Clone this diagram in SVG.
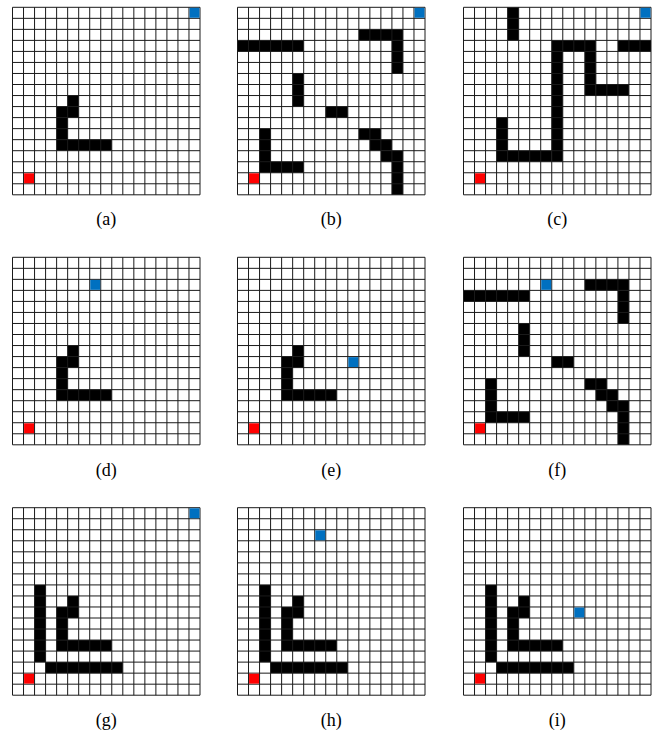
<svg xmlns="http://www.w3.org/2000/svg" width="662" height="734" viewBox="0 0 662 734">
<style>
.bg{fill:#ffffff}
.grid{fill:none;stroke:#1a1a1a;stroke-width:1}
.obs{fill:#000000}
.start{fill:#ff0000}
.goal{fill:#0070c0}
.cap{font-family:"Liberation Serif","Times New Roman",serif;font-size:18px;fill:#000;text-anchor:middle}
</style>
<defs>
<path id="gridlines" class="grid" vector-effect="non-scaling-stroke" d="M0 0V17M1 0V17M2 0V17M3 0V17M4 0V17M5 0V17M6 0V17M7 0V17M8 0V17M9 0V17M10 0V17M11 0V17M12 0V17M13 0V17M14 0V17M15 0V17M16 0V17M17 0V17M0 0H17M0 1H17M0 2H17M0 3H17M0 4H17M0 5H17M0 6H17M0 7H17M0 8H17M0 9H17M0 10H17M0 11H17M0 12H17M0 13H17M0 14H17M0 15H17M0 16H17M0 17H17"/>
<g id="obsA" class="obs">
<rect x="5" y="8" width="1" height="1"/>
<rect x="4" y="9" width="2" height="1"/>
<rect x="4" y="10" width="1" height="2"/>
<rect x="4" y="12" width="5" height="1"/>
</g>
<g id="obsB" class="obs">
<rect x="0" y="3" width="6" height="1"/>
<rect x="11" y="2" width="4" height="1"/>
<rect x="14" y="3" width="1" height="3"/>
<rect x="5" y="6" width="1" height="3"/>
<rect x="8" y="9" width="2" height="1"/>
<rect x="2" y="11" width="1" height="4"/>
<rect x="3" y="14" width="3" height="1"/>
<rect x="11" y="11" width="2" height="1"/>
<rect x="12" y="12" width="2" height="1"/>
<rect x="13" y="13" width="2" height="1"/>
<rect x="14" y="14" width="1" height="3"/>
</g>
<g id="obsC" class="obs">
<rect x="4" y="0" width="1" height="3"/>
<rect x="8" y="3" width="4" height="1"/>
<rect x="14" y="3" width="3" height="1"/>
<rect x="8" y="4" width="1" height="10"/>
<rect x="11" y="4" width="1" height="4"/>
<rect x="12" y="7" width="3" height="1"/>
<rect x="3" y="13" width="5" height="1"/>
<rect x="3" y="10" width="1" height="3"/>
</g>
<g id="obsG" class="obs">
<use href="#obsA"/>
<rect x="2" y="7" width="1" height="7"/>
<rect x="3" y="14" width="7" height="1"/>
</g>
<rect id="start" class="start" x="1.05" y="15.05" width="0.9" height="0.9"/>
<rect id="goal" class="goal" x="0.05" y="0.05" width="0.9" height="0.9"/>
</defs>
<rect class="bg" x="0" y="0" width="662" height="734"/>

<g id="panel-a" transform="translate(12.5,7.3) scale(11.03)">
<rect class="bg" width="17" height="17"/>
<use href="#obsA"/><use href="#gridlines"/><use href="#start"/><use href="#goal" x="16" y="0"/>
</g>
<g id="panel-b" transform="translate(237.5,7.3) scale(11.03)">
<rect class="bg" width="17" height="17"/>
<use href="#obsB"/><use href="#gridlines"/><use href="#start"/><use href="#goal" x="16" y="0"/>
</g>
<g id="panel-c" transform="translate(463.5,7.3) scale(11.03)">
<rect class="bg" width="17" height="17"/>
<use href="#obsC"/><use href="#gridlines"/><use href="#start"/><use href="#goal" x="16" y="0"/>
</g>
<g id="panel-d" transform="translate(12.5,257.3) scale(11.03)">
<rect class="bg" width="17" height="17"/>
<use href="#obsA"/><use href="#gridlines"/><use href="#start"/><use href="#goal" x="7" y="2"/>
</g>
<g id="panel-e" transform="translate(237.5,257.3) scale(11.03)">
<rect class="bg" width="17" height="17"/>
<use href="#obsA"/><use href="#gridlines"/><use href="#start"/><use href="#goal" x="10" y="9"/>
</g>
<g id="panel-f" transform="translate(463.5,257.3) scale(11.03)">
<rect class="bg" width="17" height="17"/>
<use href="#obsB"/><use href="#gridlines"/><use href="#start"/><use href="#goal" x="7" y="2"/>
</g>
<g id="panel-g" transform="translate(12.5,507.7) scale(11.03)">
<rect class="bg" width="17" height="17"/>
<use href="#obsG"/><use href="#gridlines"/><use href="#start"/><use href="#goal" x="16" y="0"/>
</g>
<g id="panel-h" transform="translate(237.5,507.7) scale(11.03)">
<rect class="bg" width="17" height="17"/>
<use href="#obsG"/><use href="#gridlines"/><use href="#start"/><use href="#goal" x="7" y="2"/>
</g>
<g id="panel-i" transform="translate(463.5,507.7) scale(11.03)">
<rect class="bg" width="17" height="17"/>
<use href="#obsG"/><use href="#gridlines"/><use href="#start"/><use href="#goal" x="10" y="9"/>
</g>

<g id="captions">
<text class="cap" x="106.3" y="225">(a)</text>
<text class="cap" x="331.3" y="225">(b)</text>
<text class="cap" x="557.3" y="225">(c)</text>
<text class="cap" x="106.3" y="476">(d)</text>
<text class="cap" x="331.3" y="476">(e)</text>
<text class="cap" x="557.3" y="476">(f)</text>
<text class="cap" x="106.3" y="726">(g)</text>
<text class="cap" x="331.3" y="726">(h)</text>
<text class="cap" x="557.3" y="726">(i)</text>
</g>
</svg>
